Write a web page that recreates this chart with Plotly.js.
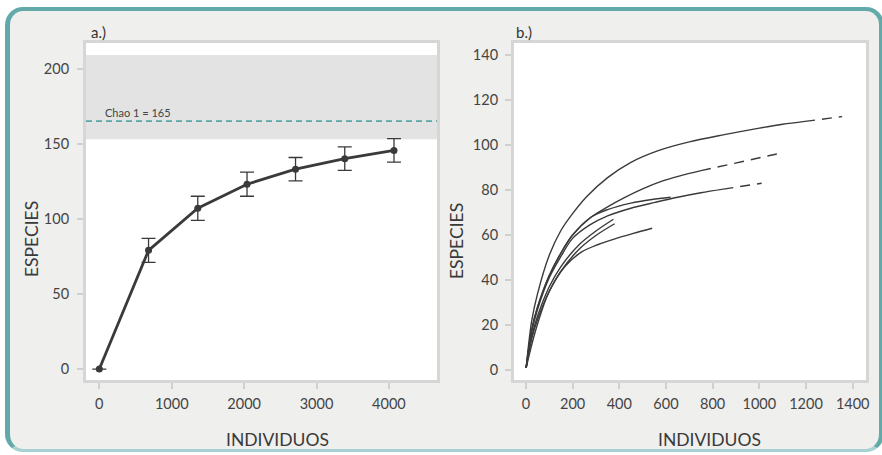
<!DOCTYPE html>
<html>
<head>
<meta charset="utf-8">
<script src="https://cdn.plot.ly/plotly-3.0.1.min.js"></script>
<style>
  html, body { margin:0; padding:0; background:#ffffff; width:882px; height:455px; overflow:hidden; }
  #frame { position:absolute; left:5px; top:7px; width:869px; height:438px;
           border-top:4px solid #62a9a9; border-left:5px solid #62a9a9; border-right:5px solid #62a9a9;
           border-bottom:3px solid #a6d2d1; border-radius:18px; background:#efefed; }
  #chart { position:absolute; left:0; top:0; width:882px; height:455px; z-index:1; }
</style>
</head>
<body>
<div id="frame"></div>
<div id="chart"></div>
<script>
// ---------- Panel a: accumulation curve with Chao 1 ----------
const indivA    = [0, 680, 1360, 2040, 2710, 3390, 4070];
const especiesA = [0, 79, 107, 123, 133, 140, 145.5];
const errA      = [0, 8, 8, 8, 7.8, 7.8, 7.8];
const chao1     = 165;
const chao1Low  = 153;
const chao1High = 209;

// ---------- Panel b: rarefaction curves ----------
const curveA_x = [1, 25, 50, 100, 150, 200, 260, 350, 450, 570, 700, 850, 1000, 1100, 1196];
const curveA_y = [1, 22, 34, 51, 62, 69.5, 77, 85.5, 92.3, 97.6, 101.4, 104.6, 107.5, 109.2, 110.5];
const curveA_ext_x = [1196, 1355];
const curveA_ext_y = [110.5, 112.6];

const curveB_x = [1, 25, 50, 100, 150, 200, 280, 350, 420, 500, 580, 660, 750];
const curveB_y = [1, 18, 28, 42, 52, 60, 68, 72.5, 76.5, 80.5, 83.8, 86.3, 88.6];
const curveB_ext_x = [750, 1075];
const curveB_ext_y = [88.6, 96];

const curveC_x = [1, 25, 50, 100, 150, 200, 280, 350, 450, 540, 620];
const curveC_y = [1, 18, 28, 42, 52, 60, 68, 71.3, 74.2, 75.8, 76.8];

const curveD_x = [1, 25, 50, 100, 150, 200, 274, 350, 446, 553, 650, 750, 846];
const curveD_y = [1, 17, 27, 41, 50.5, 58.5, 64.5, 68.5, 71.8, 74.5, 76.8, 78.8, 80.4];
const curveD_ext_x = [846, 1010];
const curveD_ext_y = [80.4, 83];

const curveE1_x = [1, 25, 50, 100, 150, 231, 300, 375];
const curveE1_y = [1, 15, 24, 37, 46, 56, 61.8, 67];

const curveE2_x = [1, 25, 50, 100, 150, 231, 300, 380];
const curveE2_y = [1, 14, 22.5, 35, 44, 54, 59.8, 65];

const curveF_x = [1, 40, 96, 167, 239, 310, 381, 460, 541];
const curveF_y = [1, 17, 34, 46, 52.5, 55.8, 58.3, 60.7, 63];

const ticksAx = [0, 1000, 2000, 3000, 4000];
const ticksAy = [0, 50, 100, 150, 200];
const ticksBx = [0, 200, 400, 600, 800, 1000, 1200, 1400];
const ticksBy = [0, 20, 40, 60, 80, 100, 120, 140];

const lineCol = '#3a3a3a';
const FONT = 'Lato, "Open Sans", sans-serif';
const W = 882, H = 455;

const traces = [
  { x: indivA, y: especiesA, xaxis:'x', yaxis:'y', type:'scatter', mode:'lines+markers',
    line:{color:lineCol, width:2.8}, marker:{color:lineCol, size:7},
    error_y:{type:'data', array:errA, visible:true, color:lineCol, thickness:1.3, width:7},
    hoverinfo:'skip' }
];

function solid(x, y) {
  traces.push({ x:x, y:y, xaxis:'x2', yaxis:'y2', type:'scatter', mode:'lines',
    line:{color:lineCol, width:1.4, shape:'spline', smoothing:0.9}, hoverinfo:'skip' });
}
function dashed(x, y) {
  traces.push({ x:x, y:y, xaxis:'x2', yaxis:'y2', type:'scatter', mode:'lines',
    line:{color:lineCol, width:1.4, dash:'10px,7px'}, hoverinfo:'skip' });
}
solid(curveA_x, curveA_y); dashed(curveA_ext_x, curveA_ext_y);
solid(curveB_x, curveB_y); dashed(curveB_ext_x, curveB_ext_y);
solid(curveC_x, curveC_y);
solid(curveD_x, curveD_y); dashed(curveD_ext_x, curveD_ext_y);
solid(curveE1_x, curveE1_y);
solid(curveE2_x, curveE2_y);
solid(curveF_x, curveF_y);

function axis(dom, rng, tv, anchor, standoff) {
  return { domain: dom, range: rng, tickvals: tv, ticktext: tv.map(String), anchor: anchor,
    showgrid:false, zeroline:false, showline:true, mirror:true, linecolor:'#d6d6d6', linewidth:3,
    ticks:'outside', ticklen:6, tickwidth:2, tickcolor:'#cfcfcf', ticklabelstandoff: standoff,
    tickfont:{family:FONT, size:14.5, color:'#444444'}, fixedrange:true };
}

const yDom = [1 - 380/H, 1 - 43/H];
const layout = {
  width: W, height: H,
  margin: {l:0, r:0, t:0, b:0},
  paper_bgcolor: 'rgba(0,0,0,0)',
  plot_bgcolor: '#ffffff',
  showlegend: false,
  xaxis:  axis([86/W, 437/W], [-184, 4664], ticksAx, 'y', 3),
  yaxis:  axis(yDom, [-7.3, 217], ticksAy, 'x', 5),
  xaxis2: axis([514/W, 866/W], [-51, 1457], ticksBx, 'y2', 3),
  yaxis2: axis(yDom, [-4.4, 145.3], ticksBy, 'x2', 4),
  shapes: [
    { type:'rect', xref:'x domain', yref:'y', x0:0, x1:1, y0:chao1Low, y1:chao1High,
      fillcolor:'#e2e3e2', line:{width:0}, layer:'below' },
    { type:'line', xref:'x domain', yref:'y', x0:0, x1:1, y0:chao1, y1:chao1,
      line:{color:'#5aa8a8', width:1.6, dash:'6px,4px'}, layer:'above' }
  ],
  annotations: [
    { text:'a.)', xref:'paper', yref:'paper', x:89/W, y:1-32/H, xanchor:'left', yanchor:'middle',
      showarrow:false, font:{family:FONT, size:15, color:'#333333'} },
    { text:'b.)', xref:'paper', yref:'paper', x:514/W, y:1-32/H, xanchor:'left', yanchor:'middle',
      showarrow:false, font:{family:FONT, size:15, color:'#333333'} },
    { text:'Chao 1 = ' + chao1, xref:'x', yref:'y', x:50, y:171, xanchor:'left', yanchor:'middle',
      showarrow:false, font:{family:FONT, size:11, color:'#444444'} },
    { text:'ESPECIES', xref:'paper', yref:'paper', x:31/W, y:1-239/H, textangle:-90,
      xanchor:'center', yanchor:'middle', showarrow:false, font:{family:FONT, size:17.5, color:'#3a3a3a'} },
    { text:'ESPECIES', xref:'paper', yref:'paper', x:456/W, y:1-241/H, textangle:-90,
      xanchor:'center', yanchor:'middle', showarrow:false, font:{family:FONT, size:17.5, color:'#3a3a3a'} },
    { text:'INDIVIDUOS', xref:'paper', yref:'paper', x:277/W, y:1-439/H,
      xanchor:'center', yanchor:'middle', showarrow:false, font:{family:FONT, size:17.5, color:'#3a3a3a'} },
    { text:'INDIVIDUOS', xref:'paper', yref:'paper', x:709/W, y:1-439/H,
      xanchor:'center', yanchor:'middle', showarrow:false, font:{family:FONT, size:17.5, color:'#3a3a3a'} }
  ]
};

Plotly.newPlot('chart', traces, layout, {staticPlot:true, displayModeBar:false});
</script>
</body>
</html>
